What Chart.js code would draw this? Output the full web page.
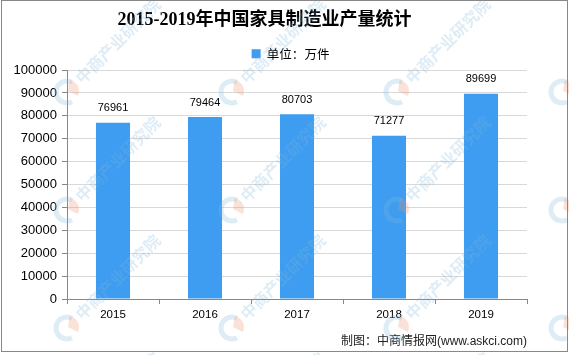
<!DOCTYPE html>
<html><head><meta charset="utf-8">
<script src="https://cdn.jsdelivr.net/npm/chart.js@4"></script>
<style>html,body{margin:0;padding:0;background:#fff}#wrap{width:569px;height:355px;position:relative}</style>
</head><body><div id="wrap"><canvas id="c"></canvas></div>
<script>
const categories = ['2015', '2016', '2017', '2018', '2019'];
const output = [76961, 79464, 80703, 71277, 89699];
const seriesName = '单位：万件';
const chartTitle = '2015-2019年中国家具制造业产量统计';
const sourceNote = '制图：中商情报网(www.askci.com)';
const watermarkText = '中商产业研究院';
const yMin = 0, yMax = 100000, yStep = 10000;

const CJK = "'Noto Sans CJK SC'";
const SANS = "'Liberation Sans', Arial, sans-serif";

const legendShift = {
  id: 'legendShift',
  afterLayout(chart) {
    if (chart.legend) { chart.legend.left += 26; chart.legend.right += 26; }
  }
};

const valueLabels = {
  id: 'valueLabels',
  afterDatasetsDraw(chart) {
    const ctx = chart.ctx;
    const meta = chart.getDatasetMeta(0);
    ctx.save();
    ctx.font = '11px ' + SANS;
    ctx.fillStyle = '#000';
    ctx.textAlign = 'center';
    ctx.textBaseline = 'middle';
    meta.data.forEach((bar, i) => {
      ctx.fillText(String(chart.data.datasets[0].data[i]), bar.x, bar.y - 14.5);
    });
    ctx.restore();
  }
};

const watermark = {
  id: 'watermark',
  afterDraw(chart) {
    const ctx = chart.ctx;
    ctx.save();
    const xs = [-98, 67, 232, 397, 562];
    const ys = [-26, 92, 210, 328, 446];
    const ang = -45 * Math.PI / 180;
    ys.forEach(y => xs.forEach(x => {
      ctx.save();
      ctx.translate(x, y);
      ctx.globalAlpha = 0.26;
      ctx.lineWidth = 5;
      ctx.strokeStyle = '#7fb6de';
      ctx.beginPath(); ctx.arc(0, 0, 11, Math.PI * 0.35, Math.PI * 1.65); ctx.stroke();
      ctx.fillStyle = '#f0906a';
      ctx.beginPath(); ctx.moveTo(1, -1); ctx.arc(1, -1, 11, -Math.PI * 0.45, Math.PI * 0.15); ctx.closePath(); ctx.fill();
      ctx.rotate(ang);
      ctx.fillStyle = '#7fb6de';
      ctx.font = 'bold 16px ' + CJK;
      ctx.textBaseline = 'middle';
      ctx.textAlign = 'left';
      ctx.fillText(watermarkText, 16, 0);
      ctx.restore();
    }));
    ctx.globalAlpha = 1;
    ctx.strokeStyle = '#888';
    ctx.lineWidth = 1;
    ctx.strokeRect(1.5, 0.5, 566, 351);
    ctx.restore();
  }
};

new Chart(document.getElementById('c'), {
  type: 'bar',
  data: {
    labels: categories,
    datasets: [{
      label: seriesName,
      data: output,
      backgroundColor: '#3e9df0',
      borderWidth: 0,
      categoryPercentage: 1,
      barPercentage: 0.37
    }]
  },
  options: {
    responsive: true,
    maintainAspectRatio: false,
    animation: false,
    layout: { padding: { left: 2, right: 42, top: 0, bottom: 0 } },
    plugins: {
      title: {
        display: true, text: chartTitle, color: '#000',
        font: { family: "'Liberation Serif', " + CJK + ", serif", size: 18, weight: 'bold' },
        padding: { top: 10, bottom: 8 }
      },
      legend: {
        display: true, position: 'top',
        labels: { boxWidth: 9, boxHeight: 9, padding: 8, color: '#000', font: { family: CJK, size: 12.5 } }
      },
      subtitle: {
        display: true, position: 'bottom', align: 'end', text: sourceNote, color: '#222',
        font: { family: SANS + ", " + CJK, size: 12 },
        padding: { top: 8.8, bottom: 6 }
      },
      tooltip: { enabled: false }
    },
    scales: {
      x: {
        grid: { display: true, drawOnChartArea: false, drawTicks: true, tickLength: 5, color: '#888', offset: true },
        border: { color: '#888', width: 1 },
        ticks: { color: '#000', font: { family: SANS, size: 11.5 }, padding: 4 }
      },
      y: {
        min: yMin, max: yMax,
        afterFit(s) { s.width = 65; },
        grid: { color: '#d9d9d9', tickColor: '#888', tickLength: 5 },
        border: { color: '#888', width: 1 },
        ticks: { stepSize: yStep, color: '#000', font: { family: SANS, size: 13 }, padding: 5,
                 callback: (v) => String(v) }
      }
    }
  },
  plugins: [legendShift, valueLabels, watermark]
});
</script></body></html>
